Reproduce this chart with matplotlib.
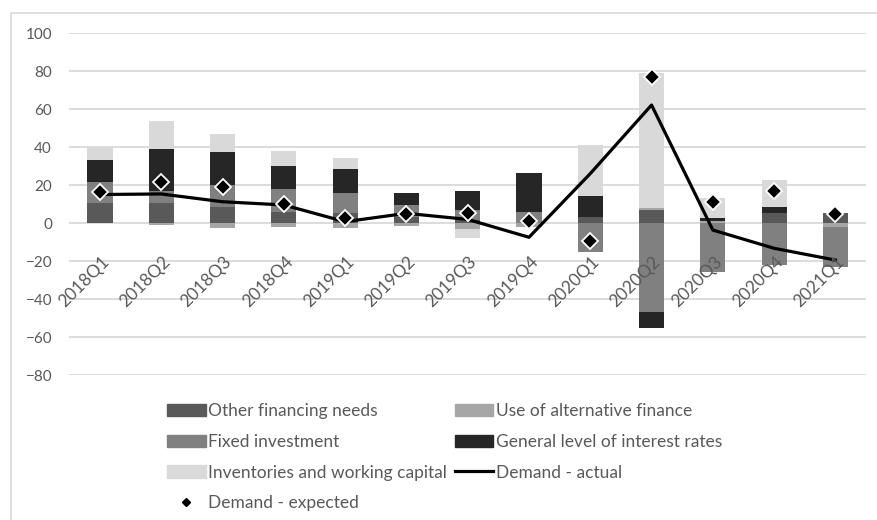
import numpy as np
import matplotlib.pyplot as plt
from matplotlib.patches import Patch, Rectangle
from matplotlib.lines import Line2D
import matplotlib.transforms as mtransforms

plt.rcParams['font.family'] = ['Lato', 'DejaVu Sans']

# Quarters and contributions (percentage balances)
quarters = ['2018Q1', '2018Q2', '2018Q3', '2018Q4', '2019Q1', '2019Q2', '2019Q3',
            '2019Q4', '2020Q1', '2020Q2', '2020Q3', '2020Q4', '2021Q1']
other_needs = [10.3, 10.7, 8.2, 5.9, 5.4, 3.0, 1.5, 0.0, 3.0, 6.8, 0.0, 5.4, 5.1]
alt_finance = [0.0, -1.0, -2.6, -2.1, -2.8, -1.8, -3.2, -2.0, 0.0, 1.2, 1.0, 0.0, -2.3]
fixed_inv = [11.4, 6.3, 11.8, 11.8, 10.2, 6.3, 5.3, 6.0, -15.1, -46.7, -25.6, -21.9, -21.0]
interest = [11.3, 22.1, 17.4, 12.3, 12.6, 6.3, 10.0, 20.1, 11.2, -8.7, 1.6, 3.2, 0.0]
inventories = [6.8, 14.8, 9.6, 7.9, 6.0, 0.0, -4.7, 0.0, 26.7, 70.8, 10.5, 14.0, 0.0]
demand_actual = [15.0, 15.3, 11.2, 9.5, 0.7, 5.1, 1.9, -7.5, 26.0, 62.1, -3.7, -13.3, -19.5]
demand_expected = [16.5, 21.7, 18.8, 10.0, 2.5, 4.7, 5.1, 1.2, -9.5, 76.7, 11.2, 16.8, 4.6]

series = [
    ('Other financing needs', other_needs, '#595959'),
    ('Use of alternative finance', alt_finance, '#a6a6a6'),
    ('Fixed investment', fixed_inv, '#808080'),
    ('General level of interest rates', interest, '#262626'),
    ('Inventories and working capital', inventories, '#d9d9d9'),
]

fig = plt.figure(figsize=(8.77, 5.2), dpi=100)
ax = fig.add_axes([0.0791, 0.2788, 0.9084, 0.6577])

# chart area outline
fig.patches.append(Rectangle((11 / 877, -0.1), 1.2, 0.1 + (1 - 13 / 520),
                             transform=fig.transFigure, fill=False,
                             edgecolor='#d9d9d9', linewidth=1.2, zorder=0))

x = np.arange(len(quarters))
pos_bottom = np.zeros(len(quarters))
neg_bottom = np.zeros(len(quarters))
for label, vals, color in series:
    vals = np.array(vals)
    bottoms = np.where(vals >= 0, pos_bottom, neg_bottom)
    ax.bar(x, vals, width=0.41, bottom=bottoms, color=color, label=label, zorder=2)
    pos_bottom += np.where(vals > 0, vals, 0)
    neg_bottom += np.where(vals < 0, vals, 0)

ax.plot(x, demand_actual, color='black', linewidth=2.3, zorder=3)
ax.plot(x, demand_expected, linestyle='none', marker='D', markersize=8.5,
        markerfacecolor='black', markeredgecolor='white', markeredgewidth=1.3, zorder=4)

ax.set_ylim(-80, 100)
ax.set_xlim(-0.5, len(quarters) - 0.5)
ax.set_yticks(np.arange(-80, 101, 20))
ax.yaxis.grid(True, color='#d9d9d9', linewidth=1.3)
ax.set_axisbelow(True)
for s in ax.spines.values():
    s.set_visible(False)
ax.tick_params(axis='y', length=0, pad=12.5, labelsize=11, labelcolor='#595959')
ax.set_xticks([])

# category labels hang below the zero line
offset = mtransforms.ScaledTranslation(1 / 100, -30 / 100, fig.dpi_scale_trans)
for i, q in enumerate(quarters):
    ax.text(i, 0, q, rotation=45, ha='right', va='top', rotation_mode='anchor',
            fontsize=12.5, color='#595959', transform=ax.transData + offset, zorder=5)

handles = [
    Patch(color='#595959', label='Other financing needs'),
    Patch(color='#808080', label='Fixed investment'),
    Patch(color='#d9d9d9', label='Inventories and working capital'),
    Line2D([], [], linestyle='none', marker='D', markersize=4.5, color='black',
           label='Demand - expected'),
    Patch(color='#a6a6a6', label='Use of alternative finance'),
    Patch(color='#262626', label='General level of interest rates'),
    Line2D([], [], color='black', linewidth=2.3, label='Demand - actual'),
]
fig.legend(handles=handles, ncol=2, loc='upper left', bbox_to_anchor=(0.173, 0.255),
           frameon=False, fontsize=12.5, handlelength=2.2, handletextpad=0.15,
           columnspacing=0.45, labelspacing=0.85, labelcolor='#595959')

fig.savefig('out.png', dpi=100)
